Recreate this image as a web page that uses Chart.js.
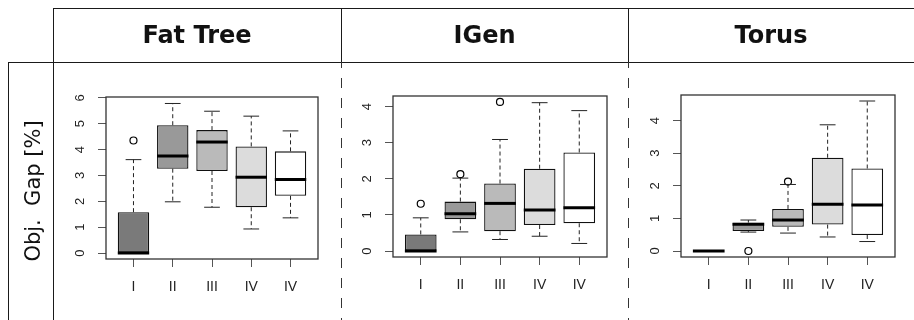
<!DOCTYPE html>
<html>
<head>
<meta charset="utf-8">
<script src="https://cdn.jsdelivr.net/npm/chart.js@4.4.1/dist/chart.umd.min.js"></script>
<style>
  html, body { margin: 0; padding: 0; background: #fff; }
  #page { position: relative; width: 914px; height: 320px; overflow: hidden; background: #fff;
          font-family: "DejaVu Sans", sans-serif; color: #111; }
  .h { position: absolute; height: 1px; background: #1a1a1a; }
  .v { position: absolute; width: 1px; background: #1a1a1a; }
  .dash { position: absolute; width: 1px; top: 62px; height: 258px;
          background-image: linear-gradient(to bottom, #333 0 10px, transparent 10px 20px);
          background-size: 1px 20px; background-position: 0 16px; }
  .head { position: absolute; top: 8px; height: 54px; line-height: 54px; text-align: center;
          font-weight: bold; font-size: 24px; }
  .panel { position: absolute; top: 62px; height: 258px; }
  #ylab { position: absolute; left: 33px; top: 191px; white-space: pre; font-size: 21px;
          transform: translate(-50%, -50%) rotate(-90deg); }
</style>
</head>
<body>
<div id="page">
  <div class="panel" style="left:54px;width:287px"><canvas id="cFat"></canvas></div>
  <div class="panel" style="left:341px;width:287px"><canvas id="cIGen"></canvas></div>
  <div class="panel" style="left:628px;width:286px"><canvas id="cTorus"></canvas></div>

  <div class="h" style="left:53px;top:8px;width:861px"></div>
  <div class="h" style="left:8px;top:62px;width:906px"></div>
  <div class="v" style="left:8px;top:62px;height:258px"></div>
  <div class="v" style="left:53px;top:8px;height:312px"></div>
  <div class="v" style="left:341px;top:8px;height:54px"></div>
  <div class="v" style="left:628px;top:8px;height:54px"></div>
  <div class="dash" style="left:341px"></div>
  <div class="dash" style="left:628px"></div>

  <div class="head" style="left:53px;width:288px">Fat Tree</div>
  <div class="head" style="left:341px;width:287px">IGen</div>
  <div class="head" style="left:628px;width:286px">Torus</div>
  <div id="ylab">Obj.  Gap [%]</div>
</div>

<script>
/* ---- data ---- */
const groups = ['I', 'II', 'III', 'IV', 'IV'];

const fatLow  = [0,    1.98, 1.77, 0.93, 1.36];
const fatQ1   = [0,    3.26, 3.17, 1.77, 2.21];
const fatMed  = [0,    3.75, 4.29, 2.93, 2.84];
const fatQ3   = [1.58, 4.94, 4.75, 4.12, 3.93];
const fatHigh = [3.61, 5.78, 5.48, 5.29, 4.72];
const fatOut  = [{ x: 1, y: 4.35 }];
const fatTicks = [0, 1, 2, 3, 4, 5, 6];

const igenLow  = [0,    0.53, 0.32, 0.41, 0.21];
const igenQ1   = [0,    0.88, 0.55, 0.72, 0.77];
const igenMed  = [0,    1.03, 1.32, 1.14, 1.20];
const igenQ3   = [0.46, 1.37, 1.87, 2.28, 2.73];
const igenHigh = [0.92, 2.02, 3.09, 4.11, 3.89];
const igenOut  = [{ x: 1, y: 1.31 }, { x: 2, y: 2.13 }, { x: 3, y: 4.13 }];
const igenTicks = [0, 1, 2, 3, 4];

const torusLow  = [0, 0.58, 0.55, 0.43, 0.29];
const torusQ1   = [0, 0.61, 0.74, 0.81, 0.49];
const torusMed  = [0, 0.82, 0.95, 1.43, 1.41];
const torusQ3   = [0, 0.87, 1.29, 2.86, 2.53];
const torusHigh = [0, 0.95, 2.04, 3.87, 4.60];
const torusOut  = [{ x: 2, y: 0 }, { x: 3, y: 2.13 }];
const torusTicks = [0, 1, 2, 3, 4];

const boxFill = ['#7a7a7a', '#999999', '#bababa', '#dcdcdc', '#ffffff'];

/* ---- whiskers, medians, y labels and frame ---- */
const boxParts = {
  id: 'boxParts',
  afterDatasetsDraw(chart, args, o) {
    const { ctx, chartArea: a, scales: { y } } = chart;
    const px = v => y.getPixelForValue(v);
    const bars = chart.getDatasetMeta(0).data;
    ctx.save();
    bars.forEach((bar, i) => {
      const half = bar.width / 2, cap = bar.width / 4;
      ctx.strokeStyle = '#222';
      ctx.lineWidth = 1;
      ctx.setLineDash([4, 3]);
      ctx.beginPath();
      ctx.moveTo(bar.x, px(o.q3[i])); ctx.lineTo(bar.x, px(o.high[i]));
      ctx.moveTo(bar.x, px(o.q1[i])); ctx.lineTo(bar.x, px(o.low[i]));
      ctx.stroke();
      ctx.setLineDash([]);
      ctx.beginPath();
      ctx.moveTo(bar.x - cap, px(o.high[i])); ctx.lineTo(bar.x + cap, px(o.high[i]));
      ctx.moveTo(bar.x - cap, px(o.low[i]));  ctx.lineTo(bar.x + cap, px(o.low[i]));
      ctx.stroke();
      ctx.strokeStyle = '#000';
      ctx.lineWidth = 3;
      ctx.beginPath();
      ctx.moveTo(bar.x - half, px(o.med[i])); ctx.lineTo(bar.x + half, px(o.med[i]));
      ctx.stroke();
    });
    // rotated y tick labels
    ctx.fillStyle = '#222';
    ctx.font = '13px "Liberation Sans", Arial, sans-serif';
    ctx.textAlign = 'center';
    ctx.textBaseline = 'middle';
    y.ticks.forEach(t => {
      ctx.save();
      ctx.translate(a.left - 26, px(t.value));
      ctx.rotate(-Math.PI / 2);
      ctx.fillText(String(t.value), 0, 0);
      ctx.restore();
    });
    ctx.strokeStyle = '#333';
    ctx.lineWidth = 1.3;
    ctx.strokeRect(a.left, a.top, a.width, a.height);
    ctx.restore();
  }
};

function boxChart(id, low, q1, med, q3, high, out, yTicks, yMin, yMax, pad) {
  return new Chart(document.getElementById(id), {
    type: 'bar',
    data: {
      datasets: [
        {
          type: 'bar',
          data: q1.map((v, i) => ({ x: i + 1, y: [v, q3[i]] })),
          backgroundColor: boxFill,
          borderColor: '#111',
          borderWidth: 1.3,
          borderSkipped: false,
          barPercentage: 0.8,
          categoryPercentage: 1,
        },
        {
          type: 'scatter',
          data: out,
          pointStyle: 'circle',
          pointRadius: 3.5,
          borderColor: '#000',
          borderWidth: 1.2,
          backgroundColor: 'rgba(0,0,0,0)',
        },
      ],
    },
    options: {
      responsive: true,
      maintainAspectRatio: false,
      animation: false,
      events: [],
      layout: { padding: pad },
      plugins: {
        legend: { display: false },
        tooltip: { enabled: false },
        boxParts: { low, q1, med, q3, high },
      },
      scales: {
        x: {
          type: 'linear', min: 0.3, max: 5.7, offset: false,
          afterBuildTicks: s => { s.ticks = groups.map((g, i) => ({ value: i + 1 })); },
          afterFit: s => { s.height = 40; },
          grid: { drawOnChartArea: false, tickLength: 8, color: '#555', offset: false },
          border: { display: false },
          ticks: {
            callback: (v, i) => groups[i],
            font: { family: '"Liberation Sans", Arial, sans-serif', size: 14 },
            color: '#222', padding: 12, maxRotation: 0, autoSkip: false,
          },
        },
        y: {
          min: yMin, max: yMax,
          afterBuildTicks: s => { s.ticks = yTicks.map(v => ({ value: v })); },
          afterFit: s => { s.width = 40; },
          grid: { drawOnChartArea: false, tickLength: 8, color: '#555' },
          border: { display: false },
          ticks: { display: false },
        },
      },
    },
    plugins: [boxParts],
  });
}

boxChart('cFat', fatLow, fatQ1, fatMed, fatQ3, fatHigh, fatOut, fatTicks, -0.23, 6.03,
         { left: 12, right: 23, top: 35, bottom: 21 });
boxChart('cIGen', igenLow, igenQ1, igenMed, igenQ3, igenHigh, igenOut, igenTicks, -0.165, 4.295,
         { left: 12, right: 21, top: 34, bottom: 23 });
boxChart('cTorus', torusLow, torusQ1, torusMed, torusQ3, torusHigh, torusOut, torusTicks, -0.184, 4.784,
         { left: 13, right: 19, top: 33, bottom: 23 });
</script>
</body>
</html>
